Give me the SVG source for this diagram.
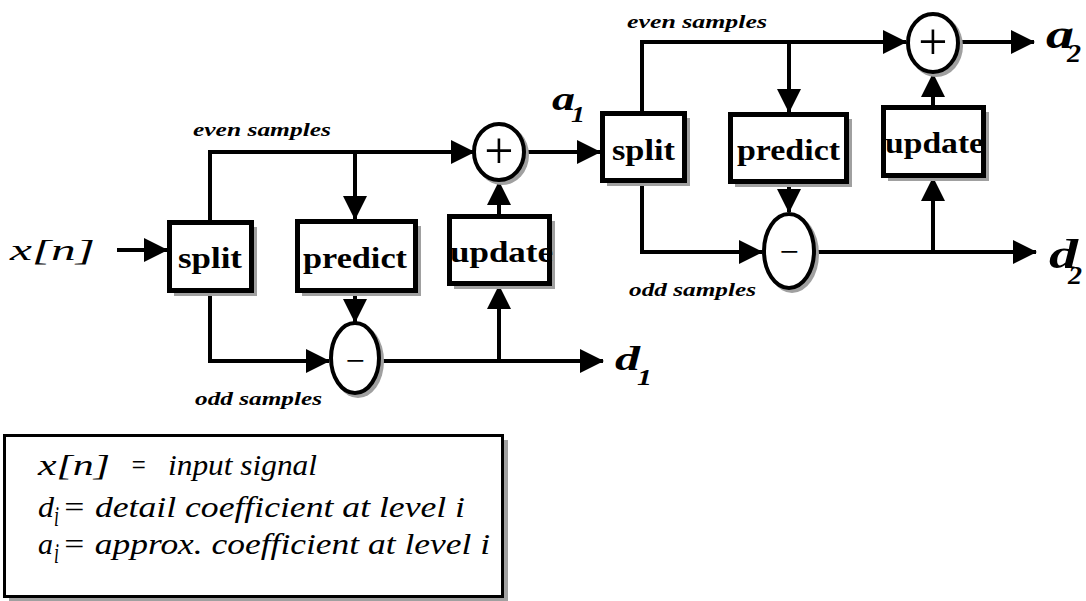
<svg xmlns="http://www.w3.org/2000/svg" width="1086" height="601" viewBox="0 0 1086 601">
<defs>
<marker id="ah" markerUnits="userSpaceOnUse" markerWidth="24" markerHeight="24" viewBox="0 0 24 24" refX="23" refY="12" orient="auto"><path d="M0,0 L24,12 L0,24 z" fill="#000"/></marker>
</defs>
<style>
.box{fill:#fff;stroke:#000;stroke-width:5}
.sh{fill:#a0a0a0}
.ring{fill:#fff;stroke:#000;stroke-width:4}
.wire{fill:none;stroke:#000;stroke-width:4;marker-end:url(#ah)}
text{font-family:'Liberation Serif',Tinos,'Noto Serif','DejaVu Serif',FreeSerif,'Nimbus Roman',Times,serif}
.lbl{font-weight:bold;font-size:30px}
.samp{font-weight:bold;font-style:italic;font-size:19px}
.sym{text-anchor:middle}
.io{font-weight:bold;font-style:italic}
.leg{font-style:italic;font-size:29px}
</style>
<rect width="1086" height="601" fill="#fff"/>

<g id="connectors">
<path class="wire" d="M117,250 H167"/>
<path class="wire" d="M210,220 V152 H474"/>
<path class="wire" d="M355,152 V219"/>
<path class="wire" d="M355,293 V322"/>
<path class="wire" d="M210,293 V361 H329"/>
<path class="wire" d="M381,361 H603"/>
<path class="wire" d="M499,361 V286"/>
<path class="wire" d="M499,214 V182"/>
<path class="wire" d="M526,152 H600"/>
<path class="wire" d="M642,111 V42 H906"/>
<path class="wire" d="M789,42 V112"/>
<path class="wire" d="M789,184 V212"/>
<path class="wire" d="M642,183 V252 H762"/>
<path class="wire" d="M816,252 H1036"/>
<path class="wire" d="M933,252 V178"/>
<path class="wire" d="M933,105 V74"/>
<path class="wire" d="M960,42 H1034"/>
</g>

<g id="input">
<text class="leg" x="10" y="260" font-size="54" textLength="85" lengthAdjust="spacingAndGlyphs">x[n]</text>
</g>

<g id="split1">
<rect class="sh" x="174" y="227" width="83" height="69"/>
<rect class="box" x="169.5" y="222.5" width="82" height="68"/>
<text class="lbl" x="178" y="268" textLength="64" lengthAdjust="spacingAndGlyphs">split</text>
</g>
<g id="predict1">
<rect class="sh" x="302" y="226" width="119" height="70"/>
<rect class="box" x="297.5" y="221.5" width="118" height="69"/>
<text class="lbl" x="303" y="268" textLength="104" lengthAdjust="spacingAndGlyphs">predict</text>
</g>
<g id="update1">
<rect class="sh" x="454" y="221" width="101" height="68"/>
<rect class="box" x="449.5" y="216.5" width="100" height="67"/>
<text class="lbl" x="450" y="262" textLength="103" lengthAdjust="spacingAndGlyphs">update</text>
</g>
<g id="minus1">
<ellipse class="sh" cx="358" cy="361" rx="26" ry="37"/>
<ellipse class="ring" cx="355" cy="358" rx="24" ry="35"/>
<text class="sym" x="355" y="372" font-size="34">−</text>
</g>
<g id="plus1">
<ellipse class="sh" cx="502" cy="155" rx="27" ry="30"/>
<ellipse class="ring" cx="499" cy="152" rx="25" ry="28"/>
<text class="sym" x="499" y="168" font-size="52">+</text>
</g>
<g id="label-even1"><text class="samp" x="193" y="136" textLength="138" lengthAdjust="spacingAndGlyphs">even samples</text></g>
<g id="label-odd1"><text class="samp" x="195" y="405" textLength="127" lengthAdjust="spacingAndGlyphs">odd samples</text></g>
<g id="out-d1">
<text class="io" x="615" y="370" font-size="34" textLength="25" lengthAdjust="spacingAndGlyphs">d</text>
<text class="io" x="637" y="385" font-size="24" textLength="15" lengthAdjust="spacingAndGlyphs">1</text>
</g>
<g id="out-a1">
<text class="io" x="552" y="110" font-size="34" textLength="23" lengthAdjust="spacingAndGlyphs">a</text>
<text class="io" x="571" y="122" font-size="24" textLength="14" lengthAdjust="spacingAndGlyphs">1</text>
</g>

<g id="split2">
<rect class="sh" x="607" y="118" width="83" height="68"/>
<rect class="box" x="602.5" y="113.5" width="82" height="67"/>
<text class="lbl" x="612" y="160" textLength="63" lengthAdjust="spacingAndGlyphs">split</text>
</g>
<g id="predict2">
<rect class="sh" x="735" y="119" width="117" height="68"/>
<rect class="box" x="730.5" y="114.5" width="116" height="67"/>
<text class="lbl" x="737" y="160" textLength="103" lengthAdjust="spacingAndGlyphs">predict</text>
</g>
<g id="update2">
<rect class="sh" x="888" y="112" width="101" height="69"/>
<rect class="box" x="883.5" y="107.5" width="100" height="68"/>
<text class="lbl" x="885" y="153" textLength="99" lengthAdjust="spacingAndGlyphs">update</text>
</g>
<g id="minus2">
<ellipse class="sh" cx="792" cy="254" rx="27" ry="39"/>
<ellipse class="ring" cx="789" cy="251" rx="25" ry="37"/>
<text class="sym" x="789" y="263" font-size="34">−</text>
</g>
<g id="plus2">
<ellipse class="sh" cx="936" cy="46" rx="27" ry="31"/>
<ellipse class="ring" cx="933" cy="43" rx="25" ry="29"/>
<text class="sym" x="933" y="59" font-size="52">+</text>
</g>
<g id="label-even2"><text class="samp" x="627" y="28" textLength="140" lengthAdjust="spacingAndGlyphs">even samples</text></g>
<g id="label-odd2"><text class="samp" x="629" y="296" textLength="127" lengthAdjust="spacingAndGlyphs">odd samples</text></g>
<g id="out-a2">
<text class="io" x="1046" y="48" font-size="40" textLength="28" lengthAdjust="spacingAndGlyphs">a</text>
<text class="io" x="1067" y="62" font-size="26" textLength="14" lengthAdjust="spacingAndGlyphs">2</text>
</g>
<g id="out-d2">
<text class="io" x="1049" y="268" font-size="42" textLength="29" lengthAdjust="spacingAndGlyphs">d</text>
<text class="io" x="1068" y="284" font-size="26" textLength="14" lengthAdjust="spacingAndGlyphs">2</text>
</g>

<g id="legend">
<rect class="sh" x="9" y="440" width="499" height="162"/>
<rect x="4.5" y="435.5" width="498" height="161" fill="#fff" stroke="#000" stroke-width="3"/>
<text class="leg" x="38" y="475" textLength="72" lengthAdjust="spacingAndGlyphs">x[n]</text>
<text class="leg" x="130" y="475" textLength="17" lengthAdjust="spacingAndGlyphs">=</text>
<text class="leg" x="168" y="475" textLength="149" lengthAdjust="spacingAndGlyphs">input signal</text>
<text class="leg" x="38" y="517" textLength="16" lengthAdjust="spacingAndGlyphs">d</text>
<text class="leg" x="54" y="526" font-size="16" textLength="5" lengthAdjust="spacingAndGlyphs">i</text>
<text class="leg" x="62" y="517" textLength="403" lengthAdjust="spacingAndGlyphs">= detail coefficient at level i</text>
<text class="leg" x="38" y="554" textLength="15" lengthAdjust="spacingAndGlyphs">a</text>
<text class="leg" x="54" y="563" font-size="16" textLength="5" lengthAdjust="spacingAndGlyphs">i</text>
<text class="leg" x="62" y="554" textLength="428" lengthAdjust="spacingAndGlyphs">= approx. coefficient at level i</text>
</g>
</svg>
